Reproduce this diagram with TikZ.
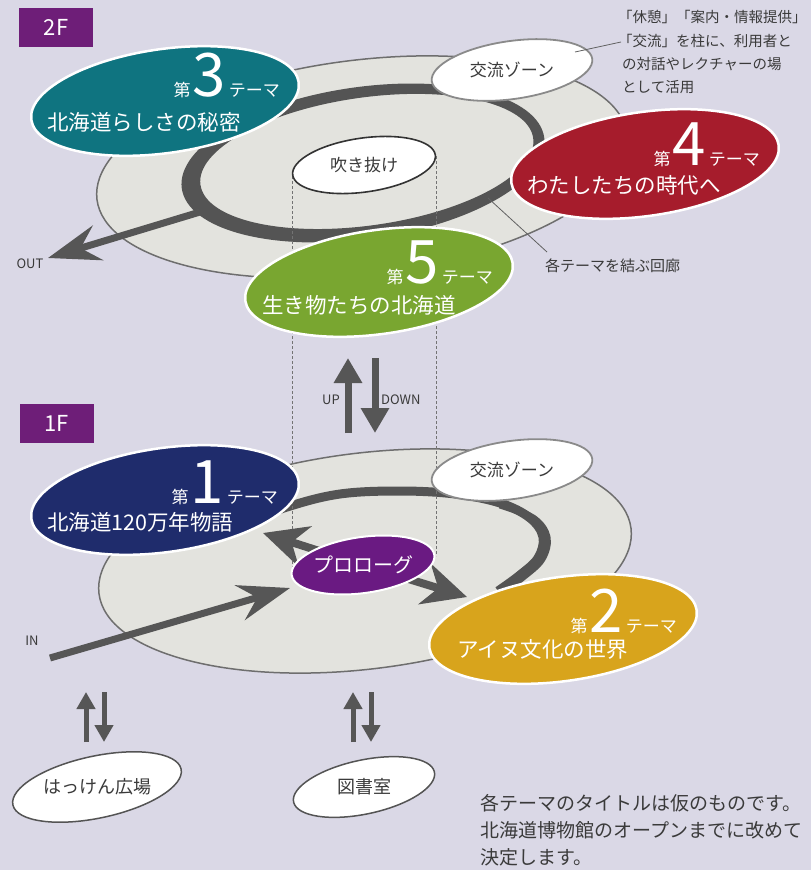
\documentclass[tikz,border=0pt]{standalone}
\usepackage{fontspec}
\setmainfont{Noto Sans CJK JP}
\usetikzlibrary{arrows.meta,shapes.geometric}
\definecolor{bgc}{HTML}{DAD8E6}
\definecolor{floorc}{HTML}{E3E3DE}
\definecolor{flooredge}{HTML}{6E6E6E}
\definecolor{ringc}{HTML}{545454}
\definecolor{arrc}{HTML}{565656}
\definecolor{txtc}{HTML}{3A3A3A}
\definecolor{labc}{HTML}{6E1E78}
\definecolor{prologc}{HTML}{6A1A82}
\definecolor{tealc}{HTML}{0F7480}
\definecolor{redc}{HTML}{A61C2C}
\definecolor{greenc}{HTML}{79A630}
\definecolor{navyc}{HTML}{1F2C6C}
\definecolor{goldc}{HTML}{D8A41C}
\definecolor{zonec}{HTML}{8A8A8A}
\newcommand{\ThemeNum}[1]{{\fontsize{17}{17}\selectfont 第}\hspace{2pt}{\fontsize{60}{60}\selectfont #1}\hspace{3pt}{\fontsize{17}{17}\selectfont テーマ}}
\begin{document}
\begin{tikzpicture}[x=1pt,y=-1pt,
  floorshape/.style={ellipse, fill=floorc, draw=flooredge, line width=1.5pt, inner sep=0pt, minimum width=534pt, minimum height=214pt, rotate=7},
  theme/.style={ellipse, draw=white, line width=2.5pt, inner sep=0pt, minimum width=270pt, minimum height=104pt, rotate=8},
  lineone/.style={inner sep=0pt, text=white, anchor=base east},
  linetwo/.style={inner sep=0pt, text=white, anchor=base west, font=\fontsize{21.5}{22}\selectfont},
  wzone/.style={ellipse, fill=white, draw=zonec, line width=1.8pt, inner sep=0pt, minimum width=162pt, minimum height=58pt, rotate=8},
  smalltxt/.style={inner sep=0pt, text=txtc, font=\fontsize{17}{18}\selectfont},
  latin/.style={inner sep=0pt, text=txtc, font=\fontsize{13}{14}\selectfont},
  floorlab/.style={fill=labc, text=white, minimum width=74pt, minimum height=39pt, inner sep=0pt, font=\fontsize{22}{22}\selectfont},
  bigarrow/.style={draw=arrc, line width=7pt, -{Stealth[length=52pt,width=36pt,inset=18pt]}},
  proarrow/.style={draw=arrc, line width=8pt, -{Stealth[length=44pt,width=42pt,inset=14pt]}},
  midarrow/.style={draw=arrc, line width=7pt, -{Triangle[length=25pt,width=27pt]}},
  smallarrow/.style={draw=arrc, line width=5pt, -{Triangle[length=17pt,width=18pt]}},
  dashline/.style={draw=gray!90!black, line width=0.8pt, dash pattern=on 3pt off 2pt},
  leader/.style={draw=txtc!80, line width=0.8pt},
  anno/.style={inner sep=0pt, text=txtc, anchor=west, font=\fontsize{14.5}{15}\selectfont},
  note/.style={inner sep=0pt, text=txtc, anchor=west, font=\fontsize{19}{20}\selectfont},
  bottomell/.style={ellipse, fill=white, draw=ringc, line width=1.5pt, inner sep=0pt, rotate=12}
]
\fill[bgc] (0,0) rectangle (811,870);
\useasboundingbox (0,0) rectangle (811,870);

% ---------- 2F ----------
\node[floorshape] (floor2) at (362,167) {};
\fill[ringc, even odd rule, rotate around={8:(363,163)}] (363,163) ellipse [x radius=183pt, y radius=76pt] (367,162) ellipse [x radius=168pt, y radius=64pt];
\coordinate (outs) at (200,212);
\coordinate (outt) at (48,258);
\draw[bigarrow] (outs) -- (outt);
\node[latin] (outlab) at (30,264) {OUT};

% ---------- 1F floor ----------
\node[floorshape, minimum width=536pt, minimum height=216pt] (floor1) at (365,561) {};
\draw[ringc, line width=9pt] plot[smooth, tension=0.6] coordinates {(230,528) (287,507) (340,494) (400,491) (455,494) (500,503) (530,518) (543,537) (538,558) (520,575) (498,591)};
\draw[ringc, line width=7pt] plot[smooth, tension=0.6] coordinates {(500,505) (533,518) (547,537) (542,559) (523,577) (502,592)};

% dashed shaft lines
\coordinate (dla) at (292,176);
\coordinate (dlb) at (292,570);
\coordinate (dlc) at (436,156);
\coordinate (dld) at (436,556);
\draw[dashline] (dla) -- (dlb);
\draw[dashline] (dlc) -- (dld);

% 吹き抜け
\node[ellipse, fill=white, draw=black!80, line width=1.6pt, inner sep=0pt, minimum width=144pt, minimum height=54pt, rotate=8] (fuki) at (364,165) {};
\node[smalltxt] (fukit) at (364,165) {吹き抜け};

% 2F zone
\node[wzone] (zone2) at (512,70) {};
\node[smalltxt] (zone2t) at (512,70) {交流ゾーン};
\coordinate (annA) at (575,52);
\coordinate (annB) at (621,42);
\draw[leader] (annA) -- (annB);
\node[anno] (an1) at (618,17) {「休憩」「案内・情報提供」};
\node[anno] (an2) at (618,41) {「交流」を柱に、利用者と};
\node[anno] (an3) at (622,64) {の対話やレクチャーの場};
\node[anno] (an4) at (622,87) {として活用};

% corridor leader
\coordinate (corA) at (488,198);
\coordinate (corB) at (547,252);
\draw[leader] (corA) -- (corB);
\node[inner sep=0pt, text=txtc, anchor=west, font=\fontsize{15}{16}\selectfont] (cort) at (545,266) {各テーマを結ぶ回廊};

% themes 2F
\node[theme, fill=tealc] (t3) at (165,101) {};
\node[lineone] (t3a) at (280,96) {\ThemeNum{3}};
\node[linetwo] (t3b) at (47,130) {北海道らしさの秘密};

\node[theme, fill=redc] (t4) at (645,164) {};
\node[lineone] (t4a) at (760,165) {\ThemeNum{4}};
\node[linetwo] (t4b) at (527,193) {わたしたちの時代へ};

\node[theme, fill=greenc] (t5) at (379,282) {};
\node[lineone] (t5a) at (493,283) {\ThemeNum{5}};
\node[linetwo] (t5b) at (262,313) {生き物たちの北海道};

\node[floorlab] (lab2) at (56,27) {2F};

% UP / DOWN
\coordinate (upA) at (348,433);
\coordinate (upB) at (348,358);
\coordinate (dnA) at (375,358);
\coordinate (dnB) at (375,433);
\draw[midarrow] (upA) -- (upB);
\draw[midarrow] (dnA) -- (dnB);
\node[latin, anchor=east] (uplab) at (340,400) {UP};
\node[latin, anchor=west] (dnlab) at (381,400) {DOWN};

% ---------- 1F ----------
\node[floorlab] (lab1) at (56.5,423) {1F};

\coordinate (proc) at (363,565);
\coordinate (inA) at (50,658);
\coordinate (inB) at (290,588);
\coordinate (t1tip) at (263,533);
\coordinate (t2tip) at (467,597);

\node[wzone] (zone1) at (512,470) {};
\node[smalltxt] (zone1t) at (512,470) {交流ゾーン};

\node[theme, fill=navyc] (t1) at (165,500) {};
\node[lineone] (t1a) at (278,503) {\ThemeNum{1}};
\node[linetwo] (t1b) at (47,530) {北海道120万年物語};

\node[theme, fill=goldc] (t2) at (563,629) {};
\node[lineone] (t2a) at (677,632) {\ThemeNum{2}};
\node[linetwo] (t2b) at (457,657) {アイヌ文化の世界};

\draw[bigarrow] (inA) -- (inB);
\draw[proarrow] (proc) -- (t1tip);
\draw[proarrow] (proc) -- (t2tip);

\node[ellipse, fill=prologc, draw=white, line width=2pt, inner sep=0pt, minimum width=144pt, minimum height=56pt, rotate=8] (pro) at (proc) {};
\node[inner sep=0pt, text=white, font=\fontsize{20}{20}\selectfont] (prot) at (proc) {プロローグ};
\node[latin] (inlab) at (32,641) {IN};

% bottom
\coordinate (b1a) at (86,742);
\coordinate (b1b) at (86,692);
\coordinate (b1c) at (104,692);
\coordinate (b1d) at (104,742);
\draw[smallarrow] (b1a) -- (b1b);
\draw[smallarrow] (b1c) -- (b1d);
\coordinate (b2a) at (353,742);
\coordinate (b2b) at (353,692);
\coordinate (b2c) at (371,692);
\coordinate (b2d) at (371,742);
\draw[smallarrow] (b2a) -- (b2b);
\draw[smallarrow] (b2c) -- (b2d);

\node[bottomell, minimum width=172pt, minimum height=62pt] (hakken) at (97,787) {};
\node[inner sep=0pt, text=txtc, font=\fontsize{18}{18}\selectfont] (hakkent) at (97,787) {はっけん広場};
\node[bottomell, minimum width=144pt, minimum height=54pt] (tosho) at (364,787) {};
\node[inner sep=0pt, text=txtc, font=\fontsize{18}{18}\selectfont] (toshot) at (364,787) {図書室};

\node[note] (n1) at (480,803) {各テーマのタイトルは仮のものです。};
\node[note] (n2) at (480,830) {北海道博物館のオープンまでに改めて};
\node[note] (n3) at (480,857) {決定します。};
\end{tikzpicture}
\end{document}
